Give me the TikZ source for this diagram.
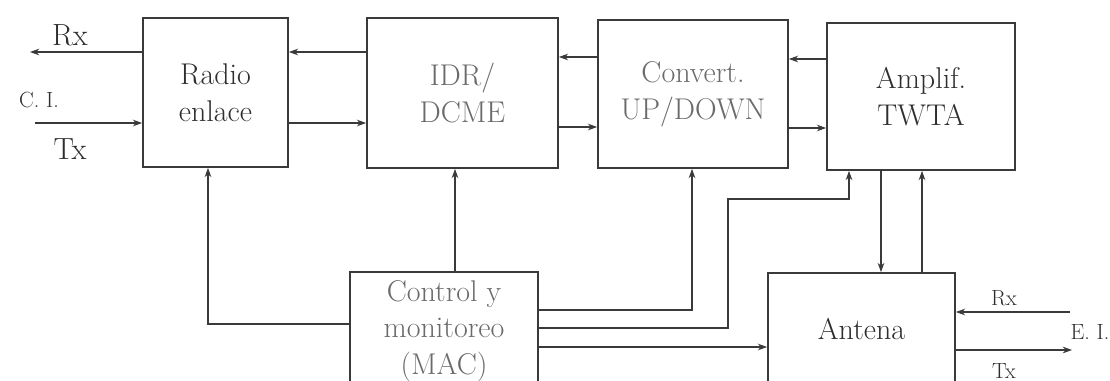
\documentclass[tikz,border=0pt]{standalone}
\usetikzlibrary{arrows.meta}
\definecolor{ln}{HTML}{3A3A3A}
\definecolor{txd}{HTML}{2E2E2E}
\definecolor{txl}{HTML}{6A6A6A}
\begin{document}
\begin{tikzpicture}[x=0.75pt,y=-0.75pt,
  blk/.style={draw=ln,line width=1.3pt,rectangle,inner sep=0pt,align=center,
    font=\fontsize{22.5}{27.5}\selectfont},
  arr/.style={draw=ln,line width=0.8pt,-{Stealth[length=7pt,width=5pt]}},
  lbl/.style={text=txd,font=\fontsize{23}{26}\selectfont,inner sep=0pt},
  slbl/.style={text=txd,font=\fontsize{16.5}{18}\selectfont,inner sep=0pt}]
\useasboundingbox (0,0) rectangle (1110,381);
% blocks
\node[blk,minimum width=145*0.75pt,minimum height=149*0.75pt,text=txd] (radio) at (215.5,92.5) {Radio\\enlace};
\node[blk,minimum width=191*0.75pt,minimum height=150*0.75pt,text=txl] (idr) at (462.5,93) {IDR/\\DCME};
\node[blk,minimum width=190*0.75pt,minimum height=148*0.75pt,text=txl] (conv) at (693,94) {Convert.\\UP/DOWN};
\node[blk,minimum width=188*0.75pt,minimum height=147*0.75pt,text=txd] (amp) at (921,96.5) {Amplif.\\TWTA};
\node[blk,minimum width=188*0.75pt,minimum height=118*0.75pt,text=txl] (ctrl) at (444,331) {Control y\\monitoreo\\(MAC)};
\node[blk,minimum width=187*0.75pt,minimum height=112*0.75pt,text=txd] (ant) at (861.5,329) {Antena};
% free ends
\coordinate (rxL) at (30,52);
\coordinate (txL) at (35,123);
\coordinate (rxR) at (1070,312);
\coordinate (txR) at (1072,350);
% left I/O
\draw[arr] (radio.west |- rxL) -- (rxL);
\draw[arr] (txL) -- (radio.west |- txL);
\node[lbl] (lrx) at (70,35) {Rx};
\node[slbl] (lci) at (39,100) {C. I.};
\node[lbl] (ltx) at (70,149) {Tx};
% chain
\draw[arr] (idr.west |- 0,52) -- (radio.east |- 0,52);
\draw[arr] (radio.east |- 0,123) -- (idr.west |- 0,123);
\draw[arr] (conv.west |- 0,57) -- (idr.east |- 0,57);
\draw[arr] (idr.east |- 0,127) -- (conv.west |- 0,127);
\draw[arr] (amp.west |- 0,59) -- (conv.east |- 0,59);
\draw[arr] (conv.east |- 0,128) -- (amp.west |- 0,128);
% control links
\draw[arr] (ctrl.west |- 0,324) -| (radio.south -| 208,0);
\draw[arr] (ctrl.north -| 455,0) -- (idr.south -| 455,0);
\draw[arr] (ctrl.east |- 0,310) -| (conv.south -| 692,0);
\draw[arr] (ctrl.east |- 0,328) -- (728,328) -- (728,199) -| (amp.south -| 849,0);
\draw[arr] (ctrl.east |- 0,347) -- (ant.west |- 0,347);
% amp <-> antenna
\draw[arr] (amp.south -| 881,0) -- (ant.north -| 881,0);
\draw[arr] (ant.north -| 922,0) -- (amp.south -| 922,0);
% right I/O
\draw[arr] (rxR) -- (ant.east |- rxR);
\draw[arr] (ant.east |- txR) -- (txR);
\node[slbl] (rrx) at (1004,298) {Rx};
\node[slbl] (rei) at (1090,332) {E. I.};
\node[slbl] (rtx) at (1004,371) {Tx};
\end{tikzpicture}
\end{document}
